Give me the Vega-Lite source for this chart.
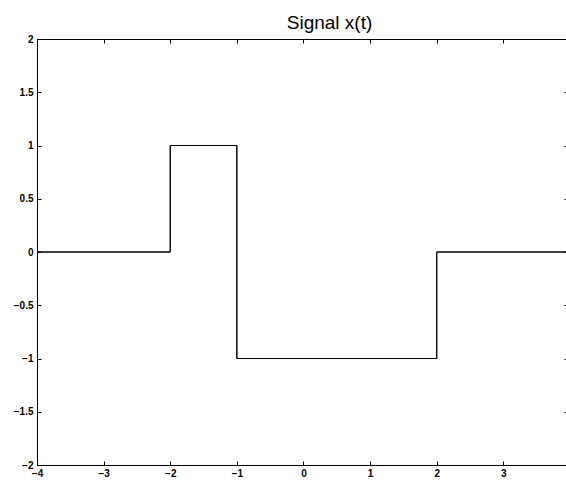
{
  "$schema": "https://vega.github.io/schema/vega-lite/v6.json",
  "width": 529,
  "height": 426,
  "autosize": {"type": "none"},
  "padding": {"left": 37, "top": 39, "right": 0, "bottom": 15},
  "background": "white",
  "title": {"text": "Signal x(t)", "fontSize": 19, "font": "Liberation Sans", "fontWeight": "normal", "color": "black", "anchor": "middle", "dx": 28, "offset": -18, "baseline": "bottom"},
  "config": {
    "view": {"stroke": null},
    "axis": {"domainColor": "black", "tickColor": "black", "labelColor": "black", "grid": false, "title": null, "labelFont": "Liberation Sans", "labelFontWeight": "bold", "labelFontSize": 10, "tickSize": -4, "domainWidth": 1, "tickWidth": 1, "format": "~g"}
  },
  "data": {"values": [
    {"i": 0, "t": -4, "x": 0},
    {"i": 1, "t": -2, "x": 0},
    {"i": 2, "t": -2, "x": 1},
    {"i": 3, "t": -1, "x": 1},
    {"i": 4, "t": -1, "x": -1},
    {"i": 5, "t": 2, "x": -1},
    {"i": 6, "t": 2, "x": 0},
    {"i": 7, "t": 4, "x": 0}
  ]},
  "layer": [
    {
      "mark": {"type": "line", "color": "black", "strokeWidth": 1, "clip": true},
      "encoding": {
        "x": {"field": "t", "type": "quantitative", "scale": {"domain": [-4, 3.94], "nice": false, "zero": false}, "axis": {"orient": "bottom", "values": [-4, -3, -2, -1, 0, 1, 2, 3], "labelPadding": 7, "labelFlush": false, "format": "~g"}},
        "y": {"field": "x", "type": "quantitative", "scale": {"domain": [-2, 2], "nice": false}, "axis": {"orient": "left", "values": [-2, -1.5, -1, -0.5, 0, 0.5, 1, 1.5, 2], "labelPadding": 8, "labelFlush": false, "format": "~g"}},
        "order": {"field": "i", "type": "quantitative"}
      }
    },
    {
      "mark": {"type": "line", "color": "black", "strokeWidth": 1, "clip": true},
      "encoding": {
        "x": {"field": "t", "type": "quantitative", "scale": {"domain": [-4, 3.94], "nice": false, "zero": false}, "axis": {"orient": "top", "values": [-4, -3, -2, -1, 0, 1, 2, 3], "labels": false}},
        "y": {"field": "x", "type": "quantitative", "scale": {"domain": [-2, 2], "nice": false}, "axis": {"orient": "right", "values": [-2, -1.5, -1, -0.5, 0, 0.5, 1, 1.5, 2], "labels": false, "domain": false, "tickSize": -2}},
        "order": {"field": "i", "type": "quantitative"}
      }
    }
  ],
  "resolve": {"axis": {"x": "independent", "y": "independent"}}
}
